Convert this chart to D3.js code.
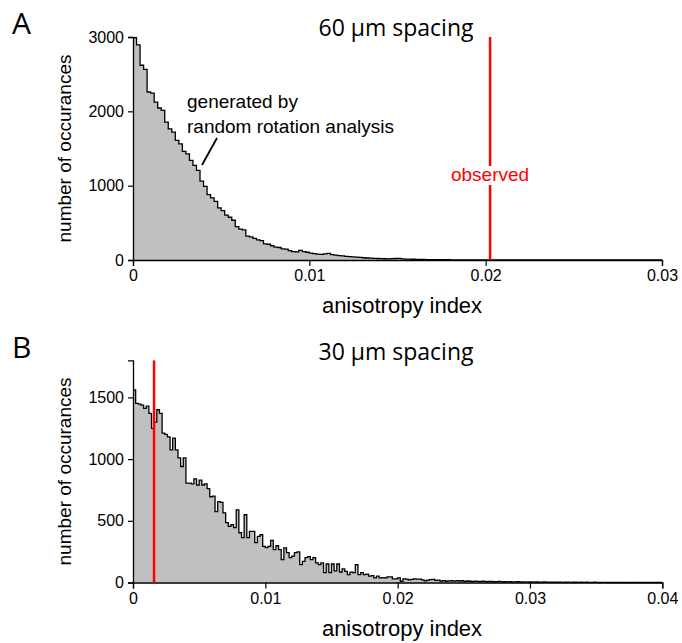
<!DOCTYPE html>
<html><head><meta charset="utf-8">
<script src="https://cdn.jsdelivr.net/npm/d3@7"></script>
<style>
body{margin:0;background:#fff;}
svg{display:block;}
</style></head>
<body>
<svg id="chart" width="682" height="643"></svg>
<script>
// ---- data ----
const binWidth = 0.0002;
const countsA = [
 2990,2895,2620,2565,2260,2245,2125,2045,2012,1855,
 1765,1720,1609,1563,1461,1429,1340,1273,1206,1060,
 990,880,835,790,700,665,605,575,535,450,
 415,405,320,310,292,270,262,218,212,192,
 172,168,150,146,125,114,110,130,112,104,
 92,85,80,76,82,90,72,66,60,55,
 50,46,42,38,34,30,27,24,22,20,
 18,17,16,18,20,21,15,12,11,10,
 9,8,7,6,6,5,5,4,4,4,
 3,3,2,2,3,2,1,2,1,1,
 2,1,1,1,2,1,1,0,1,1,
 0,1,1,0,1,0,0,1,0,0,
 0,0,1,0,0,0,0,0,1,0,
 0,0,0,0,0,1,0,0,0,0,
 0,0,0,0,0,0,0,0,0,0
];
const countsB = [
 1560,1452,1445,1438,1411,1430,1371,1249,1300,1400,
 1370,1210,1200,1180,1075,1170,1075,1010,940,1010,
 805,805,800,840,790,830,790,800,760,695,
 700,575,656,650,565,485,455,468,444,589,
 403,363,549,363,414,414,323,374,387,293,
 282,293,341,266,298,266,186,280,242,202,
 213,242,248,145,172,202,210,186,202,159,
 145,159,80,150,80,150,94,150,85,110,
 90,64,84,80,145,64,80,64,68,51,
 55,38,51,38,40,38,45,45,30,30,
 38,10,30,28,22,25,30,28,28,22,
 14,20,24,26,18,20,12,15,10,13,
 14,11,15,12,14,9,12,10,8,11,
 9,8,10,7,8,9,6,7,8,5,
 6,5,7,4,5,6,4,5,3,4,
 5,3,4,2,3,4,2,3,2,3,
 2,3,1,2,3,1,2,2,1,2,
 1,2,1,1,2,1,0,1,1,0,
 1,0,1,0,0,1,0,0,0,1,
 0,0,0,0,0,0,0,0,0,0
];
const observedA = 0.02025;
const observedB = 0.00159;
const xTicksA = [0, 0.01, 0.02, 0.03];
const yTicksA = [0, 1000, 2000, 3000];
const xTicksB = [0, 0.01, 0.02, 0.03, 0.04];
const yTicksB = [0, 500, 1000, 1500];
const titles = ["60 µm spacing", "30 µm spacing"];
const panelLetters = ["A", "B"];
const xLabel = "anisotropy index";
const yLabel = "number of occurances";
const annotation = ["generated by", "random rotation analysis"];
const observedLabel = "observed";

// ---- drawing ----
const svg = d3.select("#chart");
const sans = "'Liberation Sans', Arial, Helvetica, sans-serif";
const titleFont = "'Open Sans', 'Noto Sans', sans-serif";

function panel(cfg) {
  const x = d3.scaleLinear().domain(cfg.xDomain).range(cfg.xRange);
  const y = d3.scaleLinear().domain(cfg.yDomain).range(cfg.yRange);
  const g = svg.append("g");
  const pts = cfg.counts.map((c, i) => [i * binWidth, c]);
  pts.push([cfg.counts.length * binWidth, cfg.counts[cfg.counts.length - 1]]);
  const area = d3.area().x(d => x(d[0])).y0(y(0)).y1(d => y(d[1])).curve(d3.curveStepAfter);
  const line = d3.line().x(d => x(d[0])).y(d => y(d[1])).curve(d3.curveStepAfter);
  g.append("path").attr("d", area(pts)).attr("fill", "#c0c0c0").attr("stroke", "none");
  g.append("path").attr("d", line(pts)).attr("fill", "none").attr("stroke", "#000").attr("stroke-width", 1.3);

  const xa = g.append("g").attr("transform", `translate(0,${y(0)})`)
    .call(d3.axisBottom(x).tickValues(cfg.xTicks).tickFormat(d => d === 0 ? "0" : d3.format(".2f")(d)).tickSizeOuter(0).tickSize(6).tickPadding(4));
  const ya = g.append("g").attr("transform", `translate(${x(0)},0)`)
    .call(d3.axisLeft(y).tickValues(cfg.yTicks).tickFormat(d3.format("d")).tickSizeOuter(0).tickSize(5).tickPadding(4));
  [xa, ya].forEach(a => {
    a.select(".domain").attr("stroke", "#000").attr("stroke-width", 1.3);
    a.selectAll(".tick line").attr("stroke", "#000").attr("stroke-width", 1.2);
    a.selectAll(".tick text").attr("font-family", sans).attr("font-size", 16).attr("fill", "#000");
  });

  g.append("line").attr("x1", x(cfg.observed)).attr("x2", x(cfg.observed))
    .attr("y1", cfg.yRange[1]).attr("y2", y(0)).attr("stroke", "#ff0000").attr("stroke-width", 2.5);

  g.append("text").attr("x", 402).attr("y", y(0) + 53)
    .attr("text-anchor", "middle").attr("font-family", sans).attr("font-size", 22).text(xLabel);
  g.append("text").attr("transform", `translate(${cfg.yLabelX},${(cfg.yRange[0] + cfg.yRange[1]) / 2}) rotate(-90)`)
    .attr("text-anchor", "middle").attr("font-family", sans).attr("font-size", 19).text(yLabel);
  g.append("text").attr("x", 396).attr("y", cfg.titleY).attr("text-anchor", "middle")
    .attr("font-family", titleFont).attr("font-size", 23).text(cfg.title);
  g.append("text").attr("x", 12).attr("y", cfg.letterY)
    .attr("font-family", titleFont).attr("font-size", 30).text(cfg.letter);
  return {x, y, g};
}

const A = panel({counts: countsA, xDomain: [0, 0.03], xRange: [133, 662], yDomain: [0, 3000], yRange: [260, 37],
  xTicks: xTicksA, yTicks: yTicksA, observed: observedA, title: titles[0], titleY: 36, letter: panelLetters[0], letterY: 34, yLabelX: 71});
const B = panel({counts: countsB, xDomain: [0, 0.04], xRange: [133, 662.3], yDomain: [0, 1800], yRange: [582.5, 360.4],
  xTicks: xTicksB, yTicks: yTicksB, observed: observedB, title: titles[1], titleY: 360, letter: panelLetters[1], letterY: 358, yLabelX: 71});

// "observed" label with white backing
const obsG = A.g.append("g");
const obsRect = obsG.append("rect").attr("fill", "#fff");
const obs = obsG.append("text").attr("x", A.x(observedA)).attr("y", 181).attr("text-anchor", "middle")
  .attr("font-family", sans).attr("font-size", 19).attr("fill", "#ff0000").text(observedLabel);
const bb = obs.node().getBBox();
obsRect.attr("x", bb.x - 1).attr("y", bb.y + 2).attr("width", bb.width + 2).attr("height", bb.height - 2);

// annotation
A.g.append("text").attr("font-family", sans).attr("font-size", 19)
  .selectAll("tspan").data(annotation).join("tspan")
  .attr("x", 187).attr("y", (d, i) => 108 + i * 25).text(d => d);
A.g.append("line").attr("x1", 202).attr("y1", 165).attr("x2", 217).attr("y2", 138)
  .attr("stroke", "#000").attr("stroke-width", 1.8);
</script>
</body></html>
